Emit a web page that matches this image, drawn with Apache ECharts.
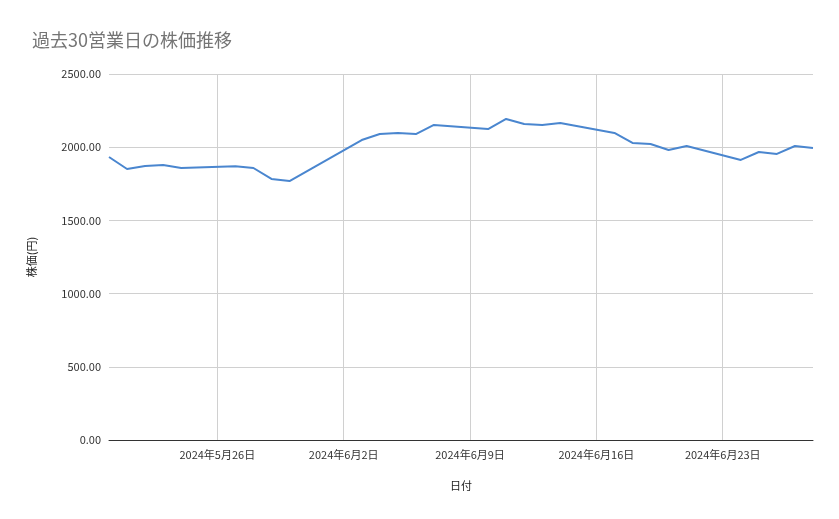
<!DOCTYPE html>
<html><head><meta charset="utf-8">
<script src="https://cdn.jsdelivr.net/npm/echarts@6/dist/echarts.min.js"></script>
<style>html,body{margin:0;padding:0;background:#fff}#c{width:839px;height:519px}</style>
</head><body><div id="c"></div>
<script>
const dates = ['2024-05-20','2024-05-21','2024-05-22','2024-05-23','2024-05-24','2024-05-27','2024-05-28','2024-05-29','2024-05-30','2024-06-03','2024-06-04','2024-06-05','2024-06-06','2024-06-07','2024-06-10','2024-06-11','2024-06-12','2024-06-13','2024-06-14','2024-06-17','2024-06-18','2024-06-19','2024-06-20','2024-06-21','2024-06-24','2024-06-25','2024-06-26','2024-06-27','2024-06-28'];
const prices = [1933,1851,1872,1878,1858,1870,1858,1783,1769,2049,2090,2097,2090,2152,2124,2193,2158,2152,2165,2097,2029,2022,1981,2008,1913,1967,1954,2008,1995];
const tickDates = ['2024-05-26','2024-06-02','2024-06-09','2024-06-16','2024-06-23'];
const startDate = '2024-05-20', endDate = '2024-06-28';
const day = d => Math.round((Date.UTC(+d.slice(0,4), +d.slice(5,7)-1, +d.slice(8,10)) - Date.UTC(2024,4,20)) / 86400000);
const fmt = d => (+d.slice(0,4))+'年'+(+d.slice(5,7))+'月'+(+d.slice(8,10))+'日';
const chart = echarts.init(document.getElementById('c'));
const font = '"Noto Sans CJK JP", "Noto Sans", sans-serif';
chart.setOption({
  animation:false,
  textStyle:{fontFamily:font},
  title:{text:'過去30営業日の株価推移',left:27,top:26,textStyle:{fontSize:18,fontWeight:'normal',color:'#757575',fontFamily:font}},
  grid:{left:109,right:26,top:74,bottom:79},
  xAxis:{type:'value',min:day(startDate),max:day(endDate),
    name:'日付',nameLocation:'middle',nameGap:40,nameTextStyle:{fontSize:11,color:'#222'},
    axisLine:{onZero:false,lineStyle:{color:'#333'}},axisTick:{show:false},splitLine:{show:false},
    axisLabel:{show:false}},
  yAxis:{type:'value',min:0,max:2500,interval:500,
    name:'株価(円)',nameLocation:'middle',nameGap:72,nameRotate:90,nameTextStyle:{fontSize:11,color:'#222'},
    axisLine:{show:false},axisTick:{show:false},
    splitLine:{lineStyle:{color:'#d0d0d0'}},
    axisLabel:{fontSize:11,color:'#333',formatter:v=>v.toFixed(2)}},
  series:[{type:'line',data:dates.map((d,i)=>[day(d),prices[i]]),showSymbol:false,
    lineStyle:{color:'#4a86cf',width:2},itemStyle:{color:'#4a86cf'},z:3,
    markLine:{silent:true,symbol:'none',z:1,lineStyle:{color:'#d0d0d0',type:'solid',width:1},
      label:{show:true,position:'start',distance:9,fontSize:11,color:'#333',fontFamily:font,formatter:p=>p.name},
      data:tickDates.map(d=>({name:fmt(d),xAxis:day(d)}))}}]
});
</script></body></html>
